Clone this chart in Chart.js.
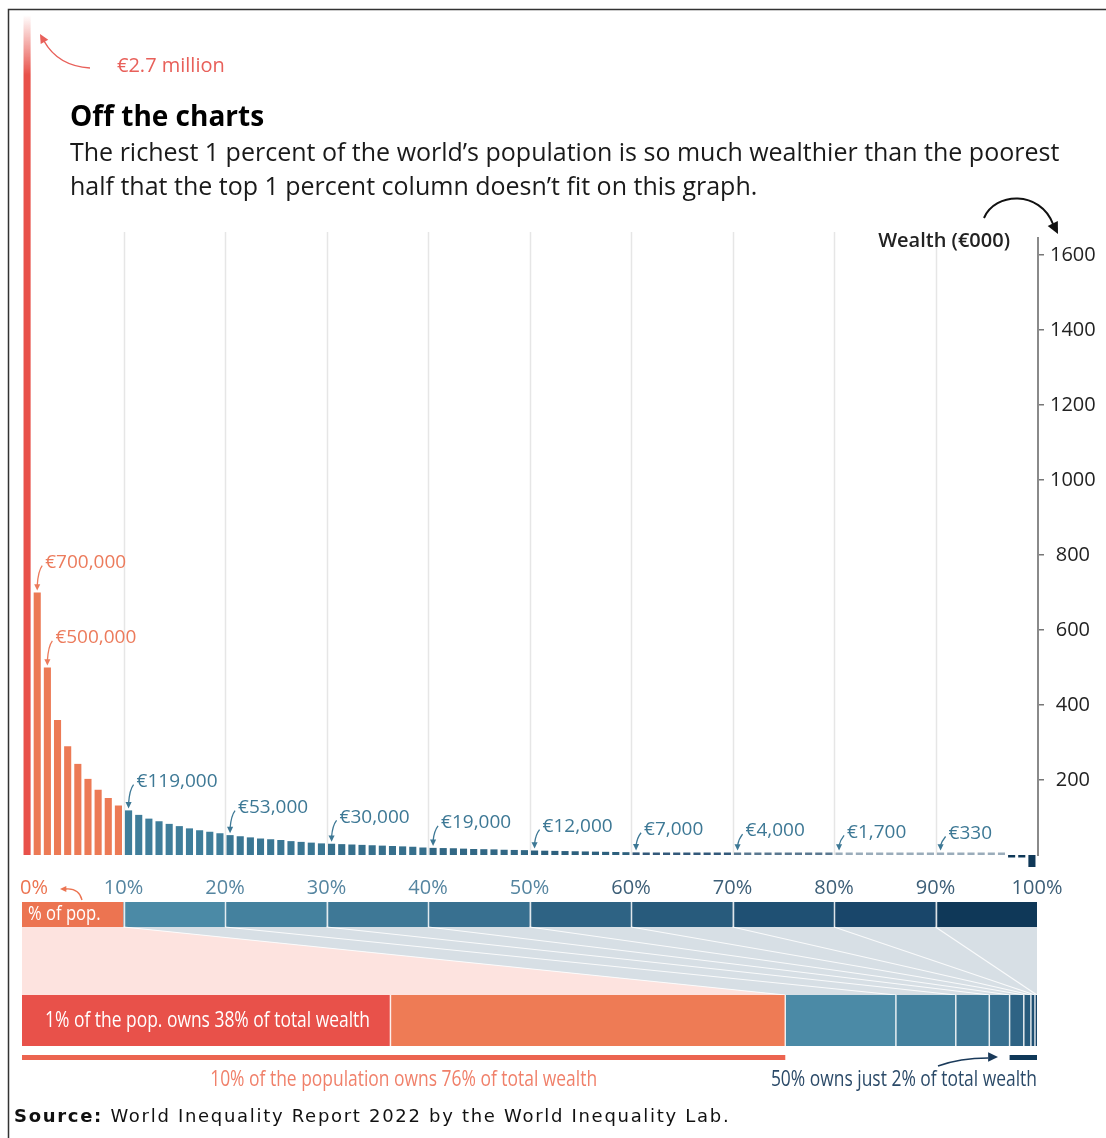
<!DOCTYPE html>
<html>
<head>
<meta charset="utf-8">
<script src="https://cdn.jsdelivr.net/npm/chart.js@4.4.1/dist/chart.umd.min.js"></script>
<style>
body{margin:0;background:#fff;}
#wrap{position:relative;width:1106px;height:1138px;overflow:hidden;}
#c{position:absolute;left:0;top:0;}
.t{position:absolute;font-family:'Open Sans','Noto Sans',sans-serif;white-space:nowrap;}
#title{left:70px;top:99px;font-size:28px;line-height:32px;font-weight:700;color:#000;}
#sub{left:70px;top:134px;font-size:25px;line-height:34px;color:#1a1a1a;}
#src{left:14px;top:1106px;font-family:'DejaVu Sans',sans-serif;font-size:18px;letter-spacing:1.7px;line-height:20px;color:#111;}
</style>
</head>
<body>
<div id="wrap">
<canvas id="c" width="1106" height="1138"></canvas>
<div class="t" id="title">Off the charts</div>
<div class="t" id="sub">The richest 1 percent of the world’s population is so much wealthier than the poorest<br>half that the top 1 percent column doesn’t fit on this graph.</div>
<div class="t" id="src"><b>Source:</b> World Inequality Report 2022 by the World Inequality Lab.</div>
</div>
<script>
// average wealth per percentile (€000), richest first
const wealth = [2700,700,500,360,290,243,203,174,152,132,
  119,107,97,90,83,77,71,66,62,58,
  53,50,47,44,42,40,37,35,33,31,
  30,29,28,27,26,25,24,23,22,20,
  19,18.5,18,17,16,15.5,15,14,13.5,13,
  12,11.5,11,10.5,10,9.5,9,8.5,8,7.5,
  7,6.7,6.4,6.1,5.8,5.5,5.2,4.9,4.6,4.3,
  4,3.8,3.5,3.3,3,2.8,2.5,2.3,2.1,1.9,
  1.7,1.55,1.4,1.25,1.1,0.95,0.8,0.7,0.55,0.45,
  0.33,0.28,0.22,0.17,0.12,0.08,0.04,-1,-4,-32];
const yTicks = [200,400,600,800,1000,1200,1400,1600];
// percentile index -> label
const calloutIdx = [1,2,10,20,30,40,50,60,70,80,90];
const calloutTxt = ['€700,000','€500,000','€119,000','€53,000','€30,000','€19,000','€12,000','€7,000','€4,000','€1,700','€330'];
// population deciles (% of pop.)
const popShare = [10,10,10,10,10,10,10,10,10,10];
// share of total wealth: top 1%, next 9%, then deciles 2..10
const wealthGroups = ['Top 1%','1-10%','10-20%','20-30%','30-40%','40-50%','50-60%','60-70%','70-80%','80-90%','90-100%'];
const wealthShare = [36.3,38.9,10.9,5.9,3.3,2.0,1.4,0.7,0.4,0.2,0];

const popColors = ['#ec7451','#4b8aa6','#44819e','#3e7896','#387090','#2e6384','#285b7c','#1f5073','#19466a','#0f3858'];
const barColors = ['#ec7a55','#3f7d9a','#3a7693','#366f8c','#326885','#2e617e','#33597a','#5a7890','#9aacba','#9aacba'];
const wealthColors = ['#e8514a','#ee7b55','#4b8aa6','#44819e','#3e7896','#387090','#2e6384','#285b7c','#1f5073','#19466a','#0f3858'];
const FONT = "'Open Sans','Noto Sans',sans-serif";

function arrowHead(ctx, x, y, ang, size){
  ctx.beginPath();
  ctx.moveTo(x, y);
  ctx.lineTo(x - size*Math.cos(ang - 0.45), y - size*Math.sin(ang - 0.45));
  ctx.lineTo(x - size*Math.cos(ang + 0.45), y - size*Math.sin(ang + 0.45));
  ctx.closePath();
  ctx.fill();
}
function narrowText(ctx, txt, x, y, size, color, align){
  const sx = 0.83;
  ctx.save();
  ctx.font = size + 'px ' + FONT;
  ctx.fillStyle = color;
  ctx.textBaseline = 'middle';
  ctx.textAlign = 'left';
  const w = ctx.measureText(txt).width * sx;
  const x0 = align === 'center' ? x - w/2 : align === 'right' ? x - w : x;
  ctx.translate(x0, y);
  ctx.scale(sx, 1);
  ctx.fillText(txt, 0, 0);
  ctx.restore();
}

const extras = {
  id: 'extras',
  beforeDatasetsDraw(chart){
    const {ctx, scales:{x, y}} = chart;
    const y0 = y.getPixelForValue(0);
    ctx.save();
    ctx.strokeStyle = '#e6e6e6';
    ctx.lineWidth = 1.5;
    for (let v = 10; v < 100; v += 10){
      const px = Math.round(x.getPixelForValue(v)) + 0.5;
      ctx.beginPath(); ctx.moveTo(px, 232); ctx.lineTo(px, y0); ctx.stroke();
    }
    ctx.restore();
  },
  afterDraw(chart){
    const {ctx, chartArea, scales:{x, y}} = chart;
    const y0 = y.getPixelForValue(0);
    ctx.save();
    // frame
    ctx.strokeStyle = '#333'; ctx.lineWidth = 1.5;
    ctx.beginPath(); ctx.moveTo(8.5, 1138); ctx.lineTo(8.5, 9.5); ctx.lineTo(1106, 9.5); ctx.stroke();

    // right axis line
    ctx.strokeStyle = '#8a8a8a'; ctx.lineWidth = 2;
    ctx.beginPath(); ctx.moveTo(chartArea.right + 1, 237); ctx.lineTo(chartArea.right + 1, y0 + 1); ctx.stroke();

    // axis title + arrow
    ctx.fillStyle = '#222';
    ctx.font = '600 20px ' + FONT;
    ctx.textAlign = 'right'; ctx.textBaseline = 'middle';
    ctx.fillText('Wealth (€000)', 1010, 241);
    ctx.strokeStyle = '#111'; ctx.lineWidth = 2;
    ctx.beginPath(); ctx.moveTo(984, 218); ctx.bezierCurveTo(995, 192, 1040, 190, 1053, 224); ctx.stroke();
    ctx.fillStyle = '#111';
    arrowHead(ctx, 1058, 234, Math.atan2(10, 5), 13);

    // €2.7 million note
    ctx.fillStyle = '#e8605a';
    ctx.font = '20px ' + FONT;
    ctx.textAlign = 'left';
    ctx.fillText('€2.7 million', 117, 66);
    ctx.strokeStyle = '#e8605a'; ctx.lineWidth = 1.5;
    ctx.beginPath(); ctx.moveTo(90, 68); ctx.quadraticCurveTo(58, 66, 44, 41); ctx.stroke();
    arrowHead(ctx, 40, 34, Math.atan2(-7, -4), 10);

    // callouts
    calloutIdx.forEach((i, k) => {
      const bx = x.getPixelForValue(i + 0.5);
      const top = Math.min(y.getPixelForValue(wealth[i]), y0 - 2.5);
      const ty = top - (30 - 0.012*(bx - 22));
      const col = i < 10 ? '#ec7b5c' : '#3d7895';
      ctx.fillStyle = col; ctx.strokeStyle = col; ctx.lineWidth = 1.3;
      ctx.font = '19px ' + FONT;
      ctx.textAlign = 'left'; ctx.textBaseline = 'middle';
      ctx.fillText(calloutTxt[k], bx + 8, ty);
      ctx.beginPath(); ctx.moveTo(bx + 5, ty + 3); ctx.quadraticCurveTo(bx + 1, ty + 8, bx, top - 7); ctx.stroke();
      arrowHead(ctx, bx, top - 2, Math.PI/2, 7);
    });

    // 0% label
    ctx.fillStyle = '#ec7451';
    ctx.font = '20px ' + FONT;
    ctx.textAlign = 'left'; ctx.textBaseline = 'middle';
    ctx.fillText('0%', 20, 888);
    ctx.strokeStyle = '#ec7451'; ctx.lineWidth = 1.3;
    ctx.beginPath(); ctx.moveTo(82, 900); ctx.quadraticCurveTo(79, 888, 66, 889); ctx.stroke();
    arrowHead(ctx, 60, 889, Math.PI, 7);

    // population strip
    const pTop = 902, pBot = 927, wTop = 995, wBot = 1046;
    let acc = 0;
    const popEdges = [x.getPixelForValue(0)];
    popShare.forEach((s, i) => {
      const a = x.getPixelForValue(acc), b = x.getPixelForValue(acc + s);
      ctx.fillStyle = popColors[i];
      ctx.fillRect(a, pTop, b - a, pBot - pTop);
      acc += s; popEdges.push(b);
    });
    // wealth segment edges (top 10% is split into 2 segments)
    let cum = 0;
    const segEdges = [x.getPixelForValue(0)];
    wealthShare.forEach(s => { cum += s; segEdges.push(x.getPixelForValue(cum)); });
    const wEdges = [];
    for (let k = 0; k <= 10; k++) wEdges.push(k === 0 ? segEdges[0] : segEdges[k + 1]);

    // connectors
    ctx.fillStyle = '#fde3df';
    ctx.beginPath();
    ctx.moveTo(popEdges[0], pBot); ctx.lineTo(popEdges[1], pBot); ctx.lineTo(wEdges[1], wTop); ctx.lineTo(wEdges[0], wTop);
    ctx.closePath(); ctx.fill();
    ctx.fillStyle = '#d7dfe5';
    ctx.beginPath();
    ctx.moveTo(popEdges[1], pBot); ctx.lineTo(popEdges[10], pBot); ctx.lineTo(wEdges[10], wTop); ctx.lineTo(wEdges[1], wTop);
    ctx.closePath(); ctx.fill();
    ctx.strokeStyle = 'rgba(255,255,255,0.85)'; ctx.lineWidth = 1.2;
    for (let k = 1; k < 10; k++){
      ctx.beginPath(); ctx.moveTo(popEdges[k], pBot); ctx.lineTo(wEdges[k], wTop); ctx.stroke();
    }

    // wealth strip
    wealthShare.forEach((s, i) => {
      const a = segEdges[i], b = segEdges[i + 1];
      ctx.fillStyle = wealthColors[i];
      ctx.fillRect(a, wTop, b - a, wBot - wTop);
    });
    ctx.strokeStyle = 'rgba(255,255,255,0.85)'; ctx.lineWidth = 1.5;
    for (let k = 1; k < 10; k++){
      const px = Math.round(popEdges[k]) + 0.5;
      ctx.beginPath(); ctx.moveTo(px, pTop); ctx.lineTo(px, pBot); ctx.stroke();
    }
    for (let k = 1; k < segEdges.length - 2; k++){
      const px = segEdges[k];
      ctx.beginPath(); ctx.moveTo(px, wTop); ctx.lineTo(px, wBot); ctx.stroke();
    }

    narrowText(ctx, '% of pop.', 28, 914, 20, '#fff', 'left');
    narrowText(ctx, '1% of the pop. owns 38% of total wealth', 45, 1021, 21, '#fff', 'left');

    // underlines
    ctx.fillStyle = '#ec6450';
    ctx.fillRect(wEdges[0], 1055, wEdges[1] - wEdges[0], 5);
    ctx.fillStyle = '#0f3858';
    ctx.fillRect(wEdges[5], 1055, wEdges[10] - wEdges[5], 5);
    narrowText(ctx, '10% of the population owns 76% of total wealth', (wEdges[0] + wEdges[1]) / 2, 1080, 21, '#f0806a', 'center');
    narrowText(ctx, '50% owns just 2% of total wealth', wEdges[10], 1080, 21, '#2b4a68', 'right');
    ctx.strokeStyle = '#1a3a5a'; ctx.fillStyle = '#1a3a5a'; ctx.lineWidth = 1.5;
    ctx.beginPath(); ctx.moveTo(938, 1066); ctx.quadraticCurveTo(960, 1058, 988, 1058); ctx.stroke();
    arrowHead(ctx, 998, 1057, 0, 11);
    ctx.restore();
  }
};

const ctx = document.getElementById('c').getContext('2d');
new Chart(ctx, {
  type: 'bar',
  data: {
    datasets: [{
      data: wealth.map((v, i) => ({x: i + 0.5, y: v})),
      barPercentage: 0.7,
      categoryPercentage: 1,
      minBarLength: 2.5,
      backgroundColor: (c) => {
        const i = c.dataIndex;
        if (i === 0) {
          const area = c.chart.chartArea;
          if (!area) return '#e8514a';
          const g = c.chart.ctx.createLinearGradient(0, area.top, 0, area.top + 60);
          g.addColorStop(0, 'rgba(232,81,74,0)');
          g.addColorStop(1, '#e8514a');
          return g;
        }
        if (wealth[i] < 0) return '#0f3858';
        return barColors[Math.floor(i / 10)];
      }
    }]
  },
  options: {
    responsive: false,
    devicePixelRatio: 1,
    animation: false,
    layout: {padding: {top: 15, left: 22, right: 0, bottom: 238}},
    plugins: {legend: {display: false}, tooltip: {enabled: false}},
    scales: {
      x: {
        type: 'linear', min: 0, max: 100,
        offset: false,
        position: 'bottom',
        grid: {display: false, drawTicks: false, tickLength: 0, offset: false},
        border: {display: false},
        afterFit: (s) => { s.height = 30; s.paddingLeft = 0; s.paddingRight = 0; },
        ticks: {
          stepSize: 10,
          padding: 6,
          font: {family: FONT, size: 20},
          color: (c) => c.tick.value <= 50 ? '#5585a0' : '#3d5f78',
          callback: (v) => v === 0 ? '' : v + '%'
        }
      },
      y: {
        type: 'linear', min: -40, max: 2240,
        position: 'right',
        afterBuildTicks: (s) => { s.ticks = yTicks.map(v => ({value: v})); },
        afterFit: (s) => { s.width = 69; s.paddingTop = 0; s.paddingBottom = 0; },
        grid: {drawOnChartArea: false, tickLength: 7, color: '#777', lineWidth: 1.5},
        border: {display: false},
        ticks: {font: {family: FONT, size: 20}, color: '#222', padding: 6, crossAlign: 'center', callback: (v) => String(v)}
      }
    }
  },
  plugins: [extras]
});
</script>
</body>
</html>
